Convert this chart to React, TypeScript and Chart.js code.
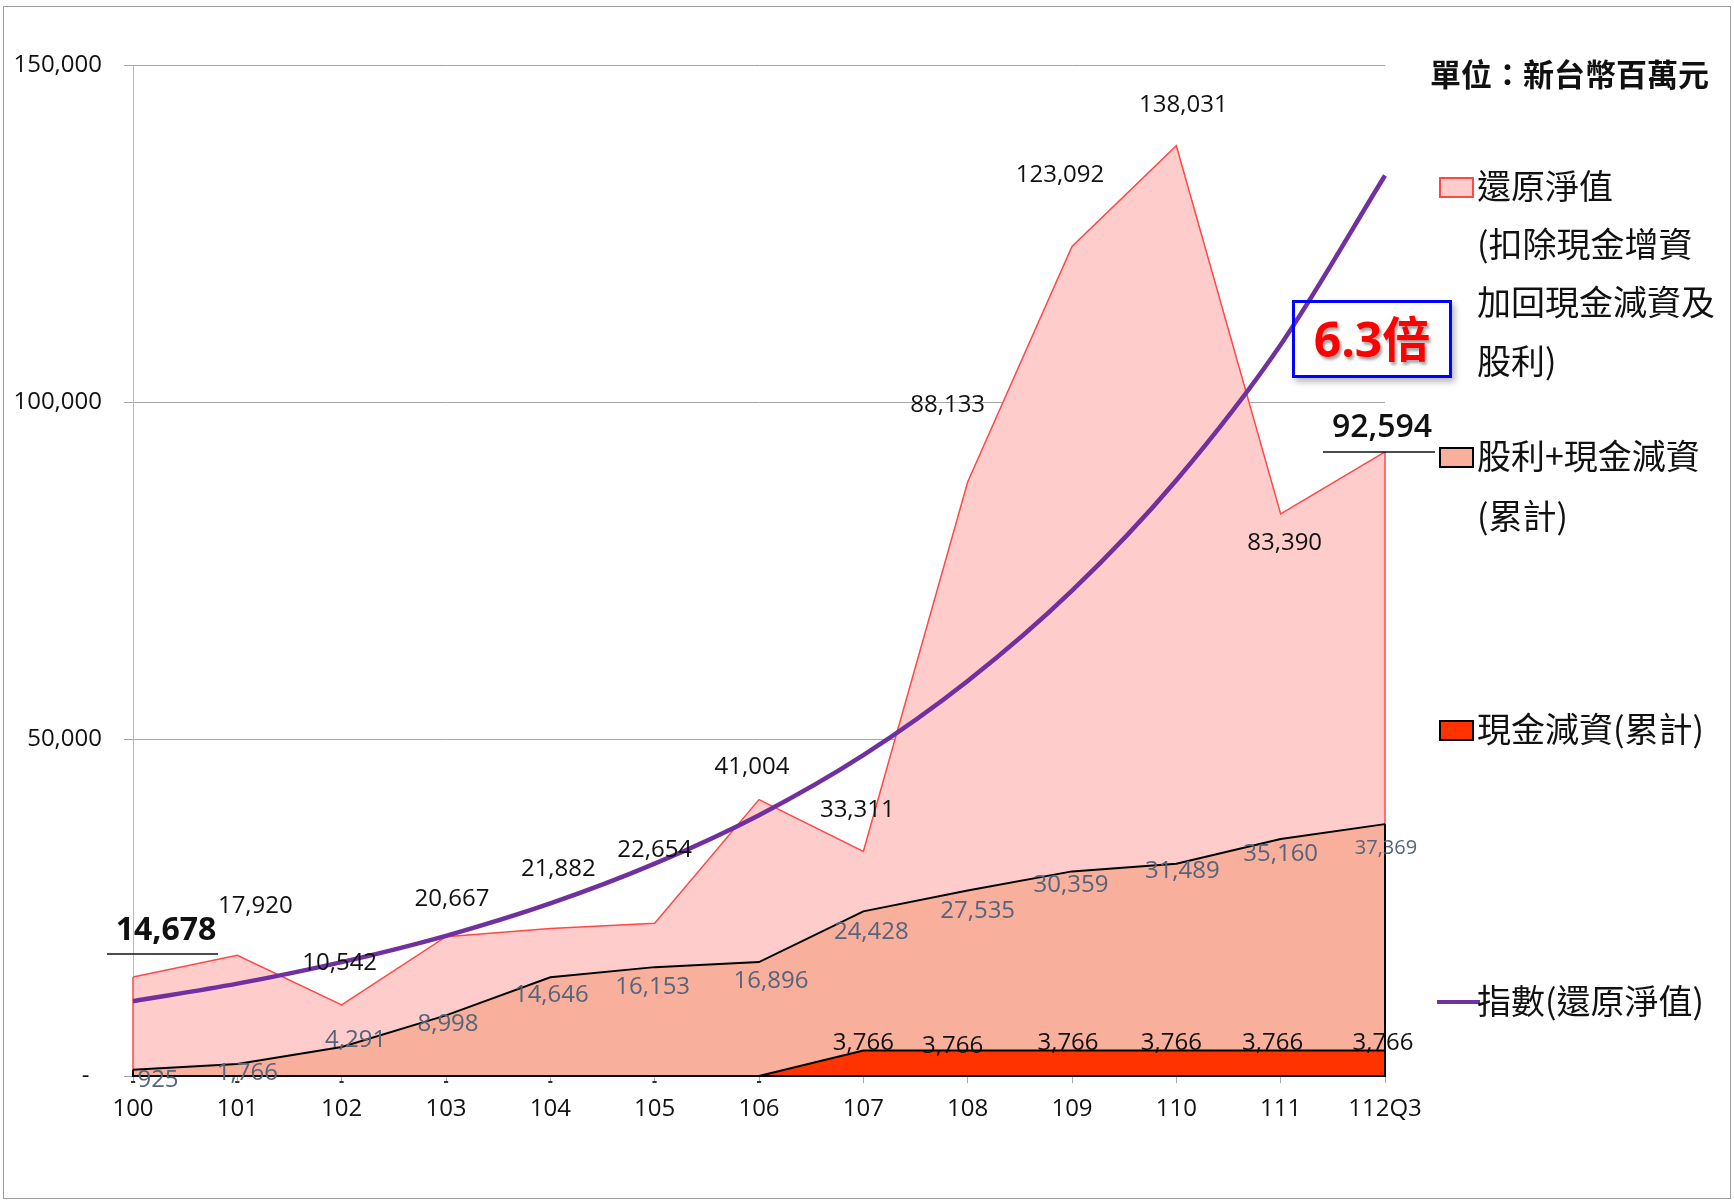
import React, { useEffect, useRef } from "react";
import { Chart, registerables } from "chart.js";

Chart.register(...registerables);

// ---------------- data ----------------
const categories = ["100", "101", "102", "103", "104", "105", "106", "107", "108", "109", "110", "111", "112Q3"];
const restoredNav = [14678, 17920, 10542, 20667, 21882, 22654, 41004, 33311, 88133, 123092, 138031, 83390, 92594];
const dividendsPlusCapReduction = [925, 1766, 4291, 8998, 14646, 16153, 16896, 24428, 27535, 30359, 31489, 35160, 37369];
const cashCapReduction = [0, 0, 0, 0, 0, 0, 0, 3766, 3766, 3766, 3766, 3766, 3766];
const restoredNavIndex = [11100, 13700, 16900, 20800, 25600, 31500, 38700, 47600, 58600, 72000, 88400, 108500, 133600];
const yTickValues = [0, 50000, 100000, 150000];

const unitText = "單位：新台幣百萬元";
const multipleText = "6.3倍";
const seriesNames = ["還原淨值(扣除現金增資加回現金減資及股利)", "股利+現金減資(累計)", "現金減資(累計)", "指數(還原淨值)"];

// ---------------- styling (label offsets in px relative to point) ----------------
const navLabelOffsets = [[33, -46], [18, -49], [-2, -42], [6, -38], [8, -59], [0, -73], [-7, -32], [-6, -41], [-20, -77], [-12, -71], [7, -41], [4, 29], [-3, -24]];
const divLabelOffsets = [[25, 10], [10, 9], [14, -7], [2, 9], [1, 18], [-2, 20], [12, 19], [8, 21], [10, 21], [-1, 14], [6, 7], [0, 15], [1, 24]];
const cashLabelOffsets = [[0, 5], [0, 5], [0, 5], [0, 5], [0, 5], [0, 5], [0, 5], [0, -7], [-15, -4], [-4, -7], [-5, -7], [-8, -7], [-2, -7]];

const NUM_FONT = "'Open Sans', 'Noto Sans CJK TC', sans-serif";
const CJK_FONT = "'Noto Sans CJK TC', 'Noto Sans CJK SC', sans-serif";

const C_NAV_FILL = "#FFCCCC";
const C_NAV_LINE = "#FF4848";
const C_DIV_FILL = "#F8AF9C";
const C_CASH_FILL = "#FF3300";
const C_INDEX = "#7030A0";

const fmt = (v: number) => (v === 0 ? "-" : v.toLocaleString("en-US"));

const edgePlugin = {
  id: "areaEdges",
  afterDatasetDraw(chart: any, args: any) {
    const ds = chart.data.datasets[args.index];
    if (!ds.fill) return;
    const pts = args.meta.data;
    if (!pts.length) return;
    const y0 = chart.scales.y.getPixelForValue(0);
    const ctx = chart.ctx;
    const first = pts[0];
    const last = pts[pts.length - 1];
    ctx.save();
    ctx.strokeStyle = ds.borderColor;
    ctx.lineWidth = ds.borderWidth;
    ctx.beginPath();
    ctx.moveTo(first.x, first.y);
    ctx.lineTo(first.x, y0);
    ctx.lineTo(last.x, y0);
    ctx.lineTo(last.x, last.y);
    ctx.stroke();
    ctx.restore();
  },
};

const labelPlugin = {
  id: "valueLabels",
  afterDatasetsDraw(chart: any) {
    const ctx = chart.ctx;
    ctx.save();
    ctx.textAlign = "center";
    ctx.textBaseline = "middle";

    // cash capital reduction labels
    const cashMeta = chart.getDatasetMeta(2);
    cashMeta.data.forEach((p: any, i: number) => {
      const v = cashCapReduction[i];
      const [dx, dy] = cashLabelOffsets[i];
      if (v === 0) {
        ctx.font = `bold 16px ${NUM_FONT}`;
        ctx.fillStyle = "#333";
      } else {
        ctx.font = `24px ${NUM_FONT}`;
        ctx.fillStyle = "#111";
      }
      ctx.fillText(fmt(v), p.x + dx, p.y + dy);
    });

    // dividends + reduction labels
    const divMeta = chart.getDatasetMeta(1);
    divMeta.data.forEach((p: any, i: number) => {
      const v = dividendsPlusCapReduction[i];
      const [dx, dy] = divLabelOffsets[i];
      const last = i === divMeta.data.length - 1;
      ctx.font = `${last ? 20 : 24}px ${NUM_FONT}`;
      ctx.fillStyle = "#55647C";
      ctx.fillText(fmt(v), p.x + dx, p.y + dy);
    });

    // restored NAV labels
    const navMeta = chart.getDatasetMeta(0);
    const n = navMeta.data.length;
    navMeta.data.forEach((p: any, i: number) => {
      const v = restoredNav[i];
      const [dx, dy] = navLabelOffsets[i];
      ctx.fillStyle = "#111";
      if (i === 0) {
        ctx.font = `bold 32px ${NUM_FONT}`;
        ctx.fillText(fmt(v), p.x + dx, p.y + dy);
        ctx.strokeStyle = "#111";
        ctx.lineWidth = 1.5;
        ctx.beginPath();
        ctx.moveTo(p.x - 26, p.y - 23);
        ctx.lineTo(p.x + 85, p.y - 23);
        ctx.stroke();
      } else if (i === n - 1) {
        ctx.font = `600 32px ${NUM_FONT}`;
        ctx.fillText(fmt(v), p.x + dx, p.y + dy);
        ctx.strokeStyle = "#111";
        ctx.lineWidth = 1.5;
        ctx.beginPath();
        ctx.moveTo(p.x - 62, p.y);
        ctx.lineTo(p.x + 50, p.y);
        ctx.stroke();
      } else {
        ctx.font = `24px ${NUM_FONT}`;
        ctx.fillText(fmt(v), p.x + dx, p.y + dy);
      }
    });
    ctx.restore();
  },
};

type LegendLine = { y: number; text: string; swatch?: { fill: string; stroke: string }; line?: string };
const legendLines: LegendLine[] = [
  { y: 187, text: "還原淨值", swatch: { fill: C_NAV_FILL, stroke: C_NAV_LINE } },
  { y: 245, text: "(扣除現金增資" },
  { y: 303, text: "加回現金減資及" },
  { y: 362, text: "股利)" },
  { y: 457, text: "股利+現金減資", swatch: { fill: C_DIV_FILL, stroke: "#000" } },
  { y: 517, text: "(累計)" },
  { y: 730, text: "現金減資(累計)", swatch: { fill: C_CASH_FILL, stroke: "#000" } },
  { y: 1002, text: "指數(還原淨值)", line: C_INDEX },
];

export default function App() {
  const canvasRef = useRef<HTMLCanvasElement | null>(null);

  useEffect(() => {
    const canvas = canvasRef.current;
    if (!canvas) return;
    const chart = new Chart(canvas, {
      type: "line",
      data: {
        labels: categories,
        datasets: [
          {
            label: seriesNames[0],
            data: restoredNav,
            fill: "origin",
            backgroundColor: C_NAV_FILL,
            borderColor: C_NAV_LINE,
            borderWidth: 1.5,
            pointRadius: 0,
            tension: 0,
            order: 4,
          },
          {
            label: seriesNames[1],
            data: dividendsPlusCapReduction,
            fill: "origin",
            backgroundColor: C_DIV_FILL,
            borderColor: "#000",
            borderWidth: 2,
            pointRadius: 0,
            tension: 0,
            order: 3,
          },
          {
            label: seriesNames[2],
            data: cashCapReduction,
            fill: "origin",
            backgroundColor: C_CASH_FILL,
            borderColor: "#000",
            borderWidth: 2,
            pointRadius: 0,
            tension: 0,
            order: 2,
          },
          {
            label: seriesNames[3],
            data: restoredNavIndex,
            fill: false,
            borderColor: C_INDEX,
            borderWidth: 4.5,
            pointRadius: 0,
            cubicInterpolationMode: "monotone",
            order: 1,
          },
        ] as any,
      },
      options: {
        responsive: false,
        animation: false,
        devicePixelRatio: 1,
        layout: { padding: { left: 0, top: 65, right: 349, bottom: 66 } },
        plugins: { legend: { display: false }, tooltip: { enabled: false } },
        scales: {
          x: {
            grid: { display: true, drawOnChartArea: false, drawTicks: true, tickLength: 7, color: "#A6A6A6" },
            border: { color: "#A6A6A6" },
            ticks: { font: { size: 24, family: NUM_FONT }, color: "#111", padding: 12, maxRotation: 0, autoSkip: false },
            afterFit: (s: any) => {
              s.height = 60;
            },
          },
          y: {
            min: 0,
            max: 150000,
            afterBuildTicks: (s: any) => {
              s.ticks = yTickValues.map((v) => ({ value: v }));
            },
            ticks: {
              font: { size: 24, family: NUM_FONT },
              color: "#111",
              padding: 22,
              callback: (v: any) => (Number(v) === 0 ? "-  " : Number(v).toLocaleString("en-US")),
            },
            grid: { color: "#A6A6A6", tickLength: 9 },
            border: { color: "#B8B8B8" },
            afterFit: (s: any) => {
              s.width = 133;
            },
          },
        },
      } as any,
      plugins: [edgePlugin, labelPlugin],
    });
    return () => chart.destroy();
  }, []);

  return (
    <div style={{ position: "absolute", left: 0, top: 0, width: 1734, height: 1202, background: "#fff", overflow: "hidden" }}>
      <canvas ref={canvasRef} width={1734} height={1202} style={{ position: "absolute", left: 0, top: 0 }} />
      <div
        style={{
          position: "absolute",
          left: 3,
          top: 6,
          width: 1728,
          height: 1193,
          boxSizing: "border-box",
          border: "1px solid #9C9C9C",
          pointerEvents: "none",
        }}
      />
      <div
        style={{
          position: "absolute",
          left: 1430,
          top: 75 - 31 * 0.7,
          fontFamily: CJK_FONT,
          fontSize: 31,
          fontWeight: 700,
          lineHeight: `${31 * 1.3}px`,
          whiteSpace: "nowrap",
          color: "#111",
        }}
      >
        {unitText}
      </div>
      {legendLines.map((l, i) => (
        <React.Fragment key={i}>
          {l.swatch && (
            <div
              style={{
                position: "absolute",
                left: 1439,
                top: l.y - 10,
                width: 35,
                height: 21,
                boxSizing: "border-box",
                background: l.swatch.fill,
                border: `2px solid ${l.swatch.stroke}`,
              }}
            />
          )}
          {l.line && (
            <div style={{ position: "absolute", left: 1437, top: l.y - 2, width: 43, height: 4, background: l.line }} />
          )}
          <div
            style={{
              position: "absolute",
              left: 1477,
              top: l.y - 34 * 0.7,
              fontFamily: CJK_FONT,
              fontSize: 34,
              lineHeight: `${34 * 1.3}px`,
              whiteSpace: "nowrap",
              color: "#111",
            }}
          >
            {l.text}
          </div>
        </React.Fragment>
      ))}
      <div
        style={{
          position: "absolute",
          left: 1292,
          top: 300,
          width: 160,
          height: 78,
          boxSizing: "border-box",
          border: "3px solid #0000FF",
          boxShadow: "3px 4px 6px rgba(0,0,0,0.28)",
          display: "flex",
          alignItems: "center",
          justifyContent: "center",
        }}
      >
        <span
          style={{
            color: "#FF0000",
            fontWeight: 700,
            fontSize: 48,
            fontFamily: NUM_FONT,
            lineHeight: 1,
            textShadow: "2px 3px 3px rgba(0,0,0,0.35)",
            whiteSpace: "nowrap",
          }}
        >
          {multipleText}
        </span>
      </div>
    </div>
  );
}
